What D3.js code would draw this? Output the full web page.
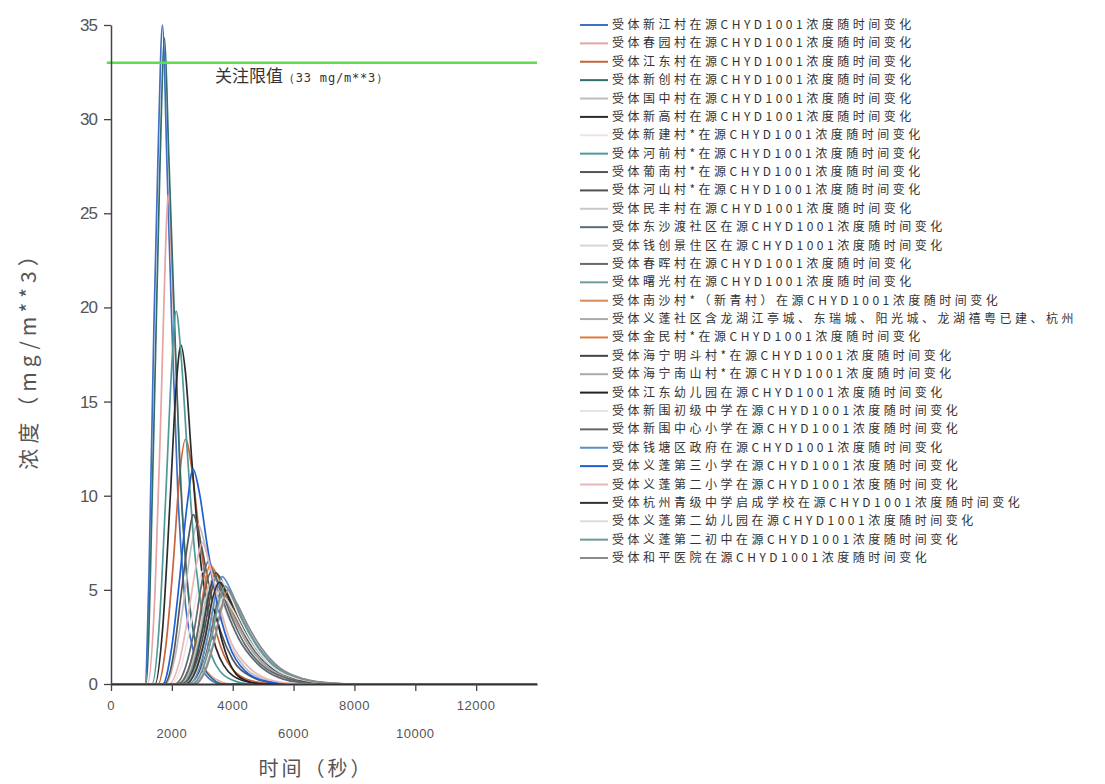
<!DOCTYPE html>
<html>
<head>
<meta charset="utf-8">
<script src="https://cdn.jsdelivr.net/npm/d3@7"></script>
<style>
  body { margin: 0; background: #fff; }
  svg { display: block; }
</style>
</head>
<body>
<svg id="chart" width="1105" height="784"></svg>
<script>
// ---- data ----
const seriesNames = [
  "受体新江村在源CHYD1001浓度随时间变化",
  "受体春园村在源CHYD1001浓度随时间变化",
  "受体江东村在源CHYD1001浓度随时间变化",
  "受体新创村在源CHYD1001浓度随时间变化",
  "受体国中村在源CHYD1001浓度随时间变化",
  "受体新高村在源CHYD1001浓度随时间变化",
  "受体新建村*在源CHYD1001浓度随时间变化",
  "受体河前村*在源CHYD1001浓度随时间变化",
  "受体葡南村*在源CHYD1001浓度随时间变化",
  "受体河山村*在源CHYD1001浓度随时间变化",
  "受体民丰村在源CHYD1001浓度随时间变化",
  "受体东沙渡社区在源CHYD1001浓度随时间变化",
  "受体钱创景住区在源CHYD1001浓度随时间变化",
  "受体春晖村在源CHYD1001浓度随时间变化",
  "受体曙光村在源CHYD1001浓度随时间变化",
  "受体南沙村*（新青村）在源CHYD1001浓度随时间变化",
  "受体义蓬社区含龙湖江亭城、东瑞城、阳光城、龙湖禧粤已建、杭州",
  "受体金民村*在源CHYD1001浓度随时间变化",
  "受体海宁明斗村*在源CHYD1001浓度随时间变化",
  "受体海宁南山村*在源CHYD1001浓度随时间变化",
  "受体江东幼儿园在源CHYD1001浓度随时间变化",
  "受体新围初级中学在源CHYD1001浓度随时间变化",
  "受体新围中心小学在源CHYD1001浓度随时间变化",
  "受体钱塘区政府在源CHYD1001浓度随时间变化",
  "受体义蓬第三小学在源CHYD1001浓度随时间变化",
  "受体义蓬第二小学在源CHYD1001浓度随时间变化",
  "受体杭州青级中学启成学校在源CHYD1001浓度随时间变化",
  "受体义蓬第二幼儿园在源CHYD1001浓度随时间变化",
  "受体义蓬第二初中在源CHYD1001浓度随时间变化",
  "受体和平医院在源CHYD1001浓度随时间变化"
];

const seriesColors = [
  "#3f6fc6", "#e6a3a3", "#c8643c", "#2f6e6a", "#bdbdbd", "#2b2b2b",
  "#eee4e4", "#4f9a98", "#555555", "#505050", "#c8c8c8", "#5e6a78",
  "#d6d6d6", "#6a6a6a", "#6f9c9a", "#d98a5a", "#ababab", "#e07a3c",
  "#444444", "#aaaaaa", "#222222", "#e4e4e4", "#666666", "#5a8fc8",
  "#1f5fcf", "#e8b8b8", "#333333", "#dcdcdc", "#6a9a96", "#8a8a8a"
];

// [time (s), concentration (mg/m**3)]
const seriesPoints = [
  [[0,0],[1120,0],[1250,6],[1410,19],[1560,29],[1690,35],[1850,27],[2000,19],[2200,10],[2400,5],[2700,1.8],[3100,0.5],[3600,0],[14000,0]],
  [[0,0],[1200,0],[1450,5],[1650,15],[1800,23.5],[1880,26],[2000,22],[2150,16],[2350,9],[2600,4],[2900,1.5],[3400,0.3],[4000,0],[14000,0]],
  [[0,0],[1550,0],[1800,2],[2050,6.5],[2250,11],[2450,13],[2650,11.5],[2900,8],[3200,4.6],[3600,2],[4100,0.6],[4800,0.1],[5500,0],[14000,0]],
  [[0,0],[1150,0],[1400,13],[1600,27],[1760,34.3],[1900,28],[2050,21],[2250,12],[2500,5.5],[2800,2],[3200,0.5],[3700,0],[14000,0]],
  [[0,0],[1800,0],[2100,1.4],[2400,4.5],[2650,7.4],[2850,8.5],[3100,7.3],[3400,5],[3750,2.9],[4200,1.3],[4800,0.4],[5600,0.05],[6300,0],[14000,0]],
  [[0,0],[1450,0],[1700,3],[1950,10],[2150,16],[2300,18],[2450,16.5],[2650,12],[2900,7.2],[3250,3.2],[3700,1],[4300,0.2],[5000,0],[14000,0]],
  [[0,0],[2000,0],[2300,0.9],[2600,3],[2850,5],[3000,6],[3300,5],[3650,3.3],[4050,1.8],[4600,0.8],[5300,0.2],[6200,0],[14000,0]],
  [[0,0],[1350,0],[1600,3.5],[1800,10],[2000,17],[2140,19.8],[2300,17.5],[2500,12.5],[2750,7],[3050,3.2],[3450,1],[4000,0.2],[4600,0],[14000,0]],
  [[0,0],[1750,0],[2050,1.5],[2300,4.7],[2550,7.8],[2700,9],[2950,7.5],[3250,5],[3600,2.8],[4000,1.3],[4600,0.4],[5400,0.05],[6000,0],[14000,0]],
  [[0,0],[2400,0],[2750,0.8],[3050,2.7],[3300,4.9],[3500,5.8],[3780,5],[4150,3.6],[4600,2.2],[5200,1],[6000,0.32],[6950,0.05],[7700,0],[14000,0]],
  [[0,0],[2250,0],[2600,0.8],[2900,2.6],[3120,4.6],[3300,5.5],[3560,4.8],[3900,3.4],[4350,2],[4950,0.9],[5700,0.28],[6600,0.04],[7300,0],[14000,0]],
  [[0,0],[2100,0],[2450,0.9],[2750,3],[3000,5.5],[3200,6.5],[3450,5.6],[3800,3.9],[4200,2.4],[4800,1.1],[5500,0.35],[6400,0.05],[7200,0],[14000,0]],
  [[0,0],[2500,0],[2850,0.7],[3150,2.2],[3400,4.1],[3600,4.8],[3880,4.2],[4250,3],[4700,1.8],[5300,0.8],[6100,0.26],[7050,0.04],[7850,0],[14000,0]],
  [[0,0],[2600,0],[2950,0.73],[3250,2.4],[3500,4.4],[3700,5.2],[3980,4.5],[4350,3.2],[4800,1.95],[5400,0.88],[6200,0.28],[7150,0.04],[7950,0],[14000,0]],
  [[0,0],[2300,0],[2650,0.8],[2950,2.6],[3200,4.7],[3400,5.6],[3680,4.9],[4050,3.5],[4500,2.1],[5100,0.95],[5900,0.3],[6800,0.05],[7500,0],[14000,0]],
  [[0,0],[2450,0],[2800,0.75],[3100,2.5],[3350,4.5],[3550,5.3],[3830,4.6],[4200,3.3],[4650,2],[5250,0.9],[6050,0.28],[7000,0.04],[7800,0],[14000,0]],
  [[0,0],[2700,0],[3050,0.63],[3350,2.1],[3600,3.8],[3800,4.5],[4080,3.9],[4450,2.8],[4900,1.7],[5500,0.76],[6300,0.24],[7250,0.04],[8050,0],[14000,0]],
  [[0,0],[2200,0],[2500,0.6],[2800,2.3],[3050,5],[3250,6.3],[3550,5.6],[3900,4.2],[4300,2.9],[4800,1.6],[5400,0.7],[6200,0.2],[7200,0.03],[8000,0],[14000,0]],
  [[0,0],[2350,0],[2700,0.8],[3000,2.8],[3250,5],[3450,5.9],[3720,5.1],[4100,3.6],[4550,2.2],[5150,1],[5950,0.32],[6900,0.05],[7600,0],[14000,0]],
  [[0,0],[2400,0],[2750,0.7],[3050,2.3],[3300,4.2],[3500,5],[3780,4.3],[4150,3.1],[4600,1.9],[5200,0.85],[6000,0.27],[6950,0.04],[7700,0],[14000,0]],
  [[0,0],[2650,0],[2850,0.5],[3050,1.7],[3230,3.4],[3350,4],[3500,3.3],[3650,2.3],[3850,1.3],[4100,0.55],[4500,0.15],[5000,0],[14000,0]],
  [[0,0],[2500,0],[2850,0.77],[3150,2.6],[3400,4.7],[3600,5.5],[3880,4.8],[4250,3.4],[4700,2.1],[5300,0.93],[6100,0.3],[7050,0.04],[7850,0],[14000,0]],
  [[0,0],[2200,0],[2550,0.8],[2850,2.8],[3100,5.1],[3300,6],[3580,5.2],[3950,3.6],[4400,2.1],[5000,0.95],[5800,0.3],[6700,0.05],[7400,0],[14000,0]],
  [[0,0],[2550,0],[2900,0.8],[3200,2.7],[3450,4.8],[3650,5.7],[3930,5],[4300,3.5],[4750,2.15],[5350,0.97],[6150,0.3],[7100,0.05],[7900,0],[14000,0]],
  [[0,0],[1700,0],[2000,2],[2250,5.5],[2500,9.5],[2700,11.4],[2900,10.2],[3150,7.5],[3450,4.6],[3850,2.2],[4400,0.7],[5200,0.1],[6000,0],[14000,0]],
  [[0,0],[1900,0],[2250,1.2],[2550,3.8],[2800,6.3],[3000,7.5],[3250,6.3],[3550,4.3],[3900,2.4],[4400,1.1],[5000,0.35],[5800,0.05],[6500,0],[14000,0]],
  [[0,0],[2450,0],[2800,0.76],[3100,2.5],[3350,4.6],[3550,5.4],[3830,4.7],[4200,3.4],[4650,2.05],[5250,0.92],[6050,0.29],[7000,0.04],[7800,0],[14000,0]],
  [[0,0],[2600,0],[2950,0.65],[3250,2.1],[3500,3.9],[3700,4.6],[3980,4],[4350,2.85],[4800,1.7],[5400,0.78],[6200,0.25],[7150,0.04],[7950,0],[14000,0]],
  [[0,0],[2650,0],[3000,0.73],[3300,2.4],[3550,4.4],[3750,5.2],[4030,4.5],[4400,3.2],[4850,1.95],[5450,0.88],[6250,0.28],[7200,0.04],[8000,0],[14000,0]],
  [[0,0],[2750,0],[3100,0.7],[3400,2.3],[3650,4.2],[3850,5],[4130,4.3],[4500,3.1],[4950,1.9],[5550,0.85],[6350,0.27],[7300,0.04],[8100,0],[14000,0]]
];

const xTicksUpper = [0, 4000, 8000, 12000];
const xTicksLower = [2000, 6000, 10000];
const yTicks = [0, 5, 10, 15, 20, 25, 30, 35];
const limitValue = 33;
const limitLabel = ["关注限值", "（33 mg/m**3）"];

// ---- chart ----
const svg = d3.select("#chart");
const x = d3.scaleLinear().domain([0, 14000]).range([111, 537]);
const y = d3.scaleLinear().domain([0, 35]).range([684, 25]);

const axisColor = "#444";
const numFont = "'Liberation Sans', Arial, sans-serif";
const cjkFont = "'Noto Sans CJK SC', sans-serif";

// lines
const line = d3.line()
  .x(d => x(d[0])).y(d => y(d[1]))
  .curve(d3.curveMonotoneX);

svg.append("g").attr("class", "series")
  .selectAll("path")
  .data(seriesPoints)
  .join("path")
  .attr("d", line)
  .attr("fill", "none")
  .attr("stroke", (d, i) => seriesColors[i])
  .attr("stroke-width", 1.7)
  .attr("stroke-linejoin", "round");

// limit line
svg.append("line")
  .attr("x1", x(-140)).attr("x2", x(14000))
  .attr("y1", y(limitValue)).attr("y2", y(limitValue))
  .attr("stroke", "#5fdc4f").attr("stroke-width", 2.5);

const lim = svg.append("text")
  .attr("x", 215).attr("y", y(limitValue) + 19)
  .attr("fill", "#333");
lim.append("tspan").attr("font-family", cjkFont).attr("font-size", 17).text(limitLabel[0]);
lim.append("tspan").attr("font-family", "'DejaVu Sans Mono', monospace").attr("font-size", 12)
  .attr("letter-spacing", 0.8).text(limitLabel[1]);

// y axis
const yAxis = svg.append("g")
  .attr("transform", `translate(${x(0)},0)`)
  .call(d3.axisLeft(y).tickValues(yTicks).tickSize(7).tickSizeOuter(0));
yAxis.select(".domain").attr("stroke", axisColor).attr("stroke-width", 1.5);
yAxis.selectAll(".tick line").attr("stroke", axisColor).attr("stroke-width", 1.3);
yAxis.selectAll(".tick text")
  .attr("font-family", numFont).attr("font-size", 17)
  .attr("fill", "#555").attr("letter-spacing", -1).attr("x", -14);

// x axis
const xAxis = svg.append("g")
  .attr("transform", `translate(0,${y(0)})`)
  .call(d3.axisBottom(x).tickValues(xTicksUpper.concat(xTicksLower)).tickSize(7).tickSizeOuter(0).tickFormat(""));
xAxis.select(".domain").attr("stroke", "#333").attr("stroke-width", 2);
xAxis.selectAll(".tick line").attr("stroke", axisColor).attr("stroke-width", 1.3);

svg.append("g").selectAll("text")
  .data(xTicksUpper)
  .join("text")
  .attr("x", d => x(d)).attr("y", 710)
  .attr("text-anchor", "middle")
  .attr("font-family", numFont).attr("font-size", 13).attr("fill", "#555")
  .attr("letter-spacing", 0.5)
  .text(d => d);

svg.append("g").selectAll("text")
  .data(xTicksLower)
  .join("text")
  .attr("x", d => x(d)).attr("y", 738)
  .attr("text-anchor", "middle")
  .attr("font-family", numFont).attr("font-size", 13).attr("fill", "#555")
  .attr("letter-spacing", 0.5)
  .text(d => d);

// axis titles
svg.append("text")
  .attr("x", 316).attr("y", 776)
  .attr("text-anchor", "middle")
  .attr("font-family", cjkFont).attr("font-size", 20).attr("fill", "#555")
  .attr("letter-spacing", 3)
  .text("时间（秒）");

svg.append("text")
  .attr("transform", "translate(36,355) rotate(-90)")
  .attr("text-anchor", "middle")
  .attr("font-family", cjkFont).attr("font-size", 21).attr("fill", "#555")
  .attr("letter-spacing", 5)
  .text("浓度（mg/m**3）");

// legend
const legend = svg.append("g").attr("class", "legend");
const legItems = legend.selectAll("g")
  .data(seriesNames)
  .join("g")
  .attr("transform", (d, i) => `translate(580,${25 + i * 18.38})`);

legItems.append("line")
  .attr("x1", 0).attr("x2", 28)
  .attr("stroke", (d, i) => seriesColors[i])
  .attr("stroke-width", 2);

legItems.append("text")
  .attr("x", 32).attr("y", 4)
  .attr("font-family", cjkFont).attr("font-size", 12)
  .attr("letter-spacing", 3.5)
  .attr("fill", "#333")
  .text(d => d);
</script>
</body>
</html>
